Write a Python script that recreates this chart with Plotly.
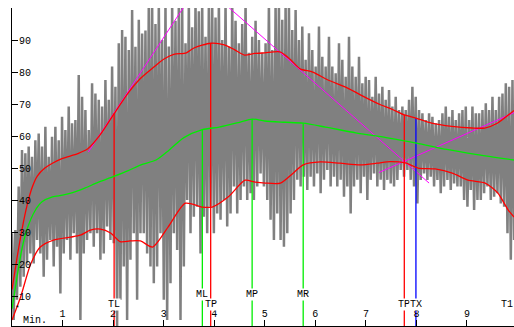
import plotly.graph_objects as go

# ---------------------------------------------------------------- data
# heart-rate trace: alternating beat-to-beat peaks and troughs, one pair per sample step
HR_STEP = 0.066  # minutes between successive peaks
HR_PEAKS = [
    29.6, 30.6, 44.2, 55.6, 54.6, 56.7, 53.5, 58.7, 60.8, 56.7, 62.9, 53.5, 59.8, 62.9, 58.7, 66.0,
    61.9, 69.2, 64.0, 65.0, 79.1, 72.3, 68.1, 61.9, 76.5, 73.3, 71.3, 69.2, 77.5, 71.3, 81.7, 75.4,
    89.0, 93.1, 91.0, 86.9, 99.4, 87.9, 96.3,
    92, 93, 102, 102, 95, 102, 90, 102, 88, 102, 96, 102, 102, 89, 102, 94, 102, 99, 102, 91,
    102, 102, 97, 102, 90, 102, 88, 102, 96, 89, 95, 102, 86, 91, 96, 90, 86, 89,
    102, 86.9, 102, 102, 96.3, 102, 102, 93.1, 99.4, 90.0, 94.2, 83.8, 92.1, 86.9, 81.7, 94.2,
    84.8, 81.7, 91.0, 81.7, 79.6, 89.0, 83.8, 78.5, 91.0, 81.7, 78.5, 84.8, 76.5, 78.5, 77.5, 72.3,
    78.5, 73.3, 75.4, 71.3, 74.4,
    69.2, 72.3, 68.1, 69.2, 68.1, 71.3, 75.4, 72.3, 68.1, 67.1, 65.0, 67.1, 66.0, 64.0, 65.0, 67.1,
    69.2, 66.0, 68.1, 65.0, 67.1, 68.1, 69.2, 65.0, 69.2, 67.1, 67.1, 68.1, 70.2, 68.1, 72.3, 68.1,
    72.3, 73.3, 76.5, 75.4, 77.5,
]
HR_TROUGHS = [
    2.5, 8.8, 12.9, 16.0, 20.2, 23.3, 20.2, 27.5, 23.3, 16.0, 21.3, 27.5, 19.2, 25.4, 10.8, 23.3,
    27.5, 21.3, 29.6, 23.3, 2.5, 23.3, 27.5, 29.6, 25.4, 29.6, 21.3, 23.3, 31.7, 27.5, 26.5, 0.4,
    8.8, 19.2, 2.5, 21.3, 29.6, 8.8, 29.6,
    29.6, 23.3, 19.2, 14.0, 19.2, 29.6, 8.8, 2.5, 14.0, 29.6, 24.4, 2.5, 19.2, 40.0, 29.6, 34.8,
    37.9, 23.3, 34.8, 29.6, 37.9, 29.6, 35.8, 33.8, 40.0, 31.7, 35.8, 44.2, 35.8, 40.0, 44.2, 40.0,
    42.1, 40.0, 44.2, 48.3, 44.2, 40.0,
    33.8, 27.5, 35.8, 27.5, 25.4, 29.6, 35.8, 40.0, 46.3, 44.2, 47.3, 43.1, 47.3, 44.2, 48.3, 42.1,
    46.3, 49.4, 44.2, 47.3, 44.2, 46.3, 41.0, 44.2, 35.8, 44.2, 46.3, 42.1, 47.3, 40.0, 46.3, 48.3,
    44.2, 46.3, 43.1, 46.3, 45.2,
    44.2, 46.3, 49.4, 47.3, 49.4, 46.3, 44.2, 38.9, 46.3, 48.3, 46.3, 47.3, 44.2, 46.3, 42.1, 44.2,
    46.3, 43.1, 45.2, 44.2, 44.2, 40.0, 37.9, 43.1, 36.9, 40.0, 40.0, 42.1, 44.2, 40.0, 41.0, 42.1,
    38.9, 37.9, 29.6, 21.3, 27.5,
]

# smoothed upper envelope
UPPER_T = [0, 0.1, 0.2, 0.3, 0.4, 0.5, 0.65, 0.8, 1.0, 1.3, 1.5, 1.75, 2.02, 2.3, 2.54,
           2.8, 3.0, 3.2, 3.45, 3.6, 3.93, 4.2, 4.4, 4.6, 4.8, 5.0, 5.3, 5.5, 5.7, 5.95,
           6.25, 6.6, 6.9, 7.3, 7.5, 7.76, 7.99, 8.3, 8.7, 9.1, 9.35, 9.6, 9.93]
UPPER_V = [12, 22, 31, 38.5, 44, 47.5, 50, 51.5, 53, 54.5, 56, 60.5, 67, 73.5, 78,
           81.5, 84, 85.5, 86, 87.5, 89, 88.5, 87, 85.3, 85.8, 86, 86.3, 84, 81, 80,
           77.5, 75.3, 72.8, 69.7, 68.5, 66.6, 65.6, 64, 63, 62.5, 62.5, 64, 68]

# smoothed mean
MEAN_T = [0, 0.1, 0.2, 0.3, 0.45, 0.6, 0.8, 1.0, 1.2, 1.45, 1.7, 2.0, 2.3, 2.55, 2.85, 3.1, 3.4,
          3.765, 4.1, 4.5, 4.75, 5.0, 5.4, 5.76, 6.2, 6.8, 7.4, 8.0, 8.6, 9.2, 9.93]
MEAN_V = [6, 16, 25, 31, 36.5, 39.5, 41, 41.5, 42.3, 43.8, 45.5, 47.3, 49.2, 51, 52.5, 55.5, 59.5,
          62, 62.8, 64.3, 65.3, 64.7, 64.3, 64, 62.8, 61, 59.5, 57.8, 55.8, 54.2, 52.5]

# smoothed lower envelope
LOWER_T = [0, 0.17, 0.37, 0.56, 0.82, 1.16, 1.35, 1.55, 1.75, 1.95, 2.14, 2.34, 2.54, 2.78, 3.09,
           3.43, 3.76, 3.96, 4.28, 4.61, 4.81, 5.01, 5.31, 5.56, 5.76, 6.1, 6.49, 6.89, 7.22, 7.48,
           7.78, 8.03, 8.37, 8.71, 9.02, 9.36, 9.61, 9.81, 9.93]
LOWER_V = [2.5, 9.7, 20, 25.3, 27.5, 28.4, 29, 30.6, 30.9, 29.7, 27, 27.2, 27.2, 25.3, 31.6,
           39, 37.8, 37.8, 41, 46.2, 45.6, 45.3, 45.3, 48.4, 51, 51.9, 51.5, 51, 51.5, 52,
           51.6, 50, 49.7, 48.4, 46.2, 45.3, 42.2, 37, 34.7]

# regression / tangent lines (start and end points)
TANGENT_T = [[1.51, 3.45], [4.28, 8.25], [7.26, 9.93]]
TANGENT_V = [[55, 101.6], [100.3, 45.3], [48.6, 67.3]]

# event markers
MARK_NAMES = ["TL", "ML", "TP", "MP", "MR", "TP", "TX"]
MARK_T = [2.02, 3.765, 3.93, 4.75, 5.76, 7.76, 7.99]
MARK_TOP = [67.0, 62.0, 89.0, 65.3, 64.0, 66.6, 65.6]
END_NAME = "T1"

X_TICKS = [1, 2, 3, 4, 5, 6, 7, 8, 9]
Y_TICKS = [10, 20, 30, 40, 50, 60, 70, 80, 90, 100]
Y_TICKTEXT = ["10", "20", "30", "40", "50", "60", "70", "80", "90", ""]

# ---------------------------------------------------------------- styles
RED, GREEN, BLUE, MAGENTA, GRAY = "#ff0000", "#00ee00", "#0000ff", "#ff00ff", "#808080"
MARK_COLORS = [RED, GREEN, RED, GREEN, GREEN, RED, BLUE]
MARK_ROWS = [7.5, 10.6, 7.5, 10.6, 10.6, 7.5, 7.5]
FONT = dict(family="Liberation Mono, Courier New, monospace", size=10, color="#000000")

fig = go.Figure()

# beat-to-beat trace drawn as a zigzag: peak, trough, peak, trough ...
hr_x, hr_y = [], []
for i, (p, q) in enumerate(zip(HR_PEAKS, HR_TROUGHS)):
    hr_x += [i * HR_STEP, i * HR_STEP + HR_STEP / 2]
    hr_y += [p, q]
fig.add_trace(go.Scatter(x=hr_x, y=hr_y, mode="lines",
                         line=dict(color=GRAY, width=2.5), hoverinfo="skip"))

for tx, tv in zip(TANGENT_T, TANGENT_V):
    fig.add_trace(go.Scatter(x=tx, y=tv, mode="lines", line=dict(color=MAGENTA, width=1)))

for t, top, col in zip(MARK_T, MARK_TOP, MARK_COLORS):
    fig.add_trace(go.Scatter(x=[t, t], y=[0, top], mode="lines", line=dict(color=col, width=1.3)))

for xs, ys, col in [(UPPER_T, UPPER_V, RED), (MEAN_T, MEAN_V, GREEN), (LOWER_T, LOWER_V, RED)]:
    fig.add_trace(go.Scatter(x=xs, y=ys, mode="lines",
                             line=dict(color=col, width=1.3, shape="spline", smoothing=0.7)))

for name, t, row in zip(MARK_NAMES, MARK_T, MARK_ROWS):
    fig.add_annotation(x=t, y=row, text=name, showarrow=False, font=FONT,
                       bgcolor="#ffffff", borderpad=0, xanchor="center", yanchor="middle")
fig.add_annotation(x=1, xref="paper", y=7.5, text=END_NAME, showarrow=False, font=FONT,
                   bgcolor="#ffffff", borderpad=0, xanchor="right", yanchor="middle")
fig.add_annotation(x=0.46, y=2.2, text="Min.", showarrow=False, font=FONT,
                   xanchor="center", yanchor="middle")
fig.add_annotation(x=0.1, y=6.3, text="*", showarrow=False,
                   font=dict(family=FONT["family"], size=8, color="#000000"),
                   xanchor="center", yanchor="middle")

fig.update_layout(
    width=514, height=327,
    margin=dict(l=12, r=0, t=8, b=1),
    paper_bgcolor="#ffffff", plot_bgcolor="#ffffff",
    showlegend=False,
    font=FONT,
    xaxis=dict(range=[0, 9.93], tickvals=X_TICKS, ticks="inside", ticklen=6,
               ticklabelposition="inside", showline=True, linecolor="#000000", linewidth=1,
               tickcolor="#000000", showgrid=False, zeroline=False, tickfont=FONT,
               fixedrange=True),
    yaxis=dict(range=[0.625, 100.01], tickvals=Y_TICKS, ticktext=Y_TICKTEXT, ticks="inside",
               ticklen=6, ticklabelposition="inside", showline=True, linecolor="#000000",
               linewidth=1, tickcolor="#000000", showgrid=False, zeroline=False,
               tickfont=FONT, fixedrange=True),
)

fig.write_html("out.html")
